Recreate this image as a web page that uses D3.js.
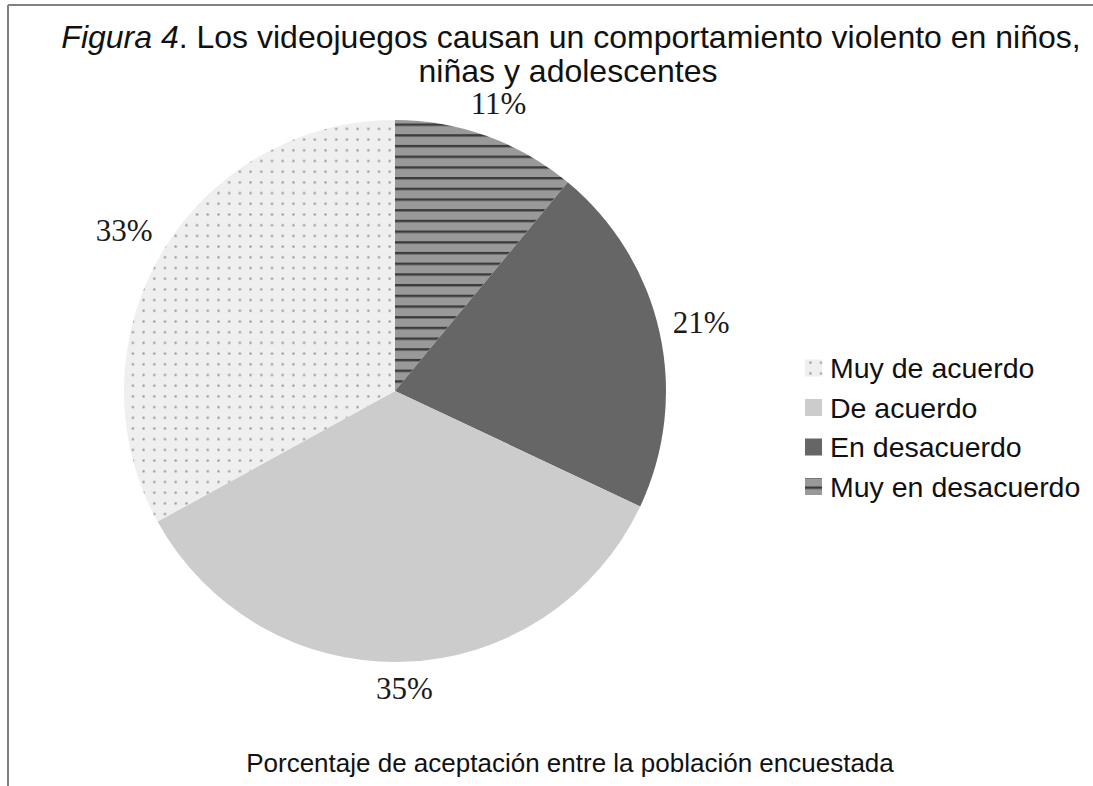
<!DOCTYPE html>
<html>
<head>
<meta charset="utf-8">
<script src="https://cdn.jsdelivr.net/npm/d3@7"></script>
<style>
  html, body { margin: 0; padding: 0; background: #fff; }
  svg { display: block; }
</style>
</head>
<body>
<svg id="chart" width="1093" height="786"></svg>
<script>
// ---- Data ----
const categories = ["Muy en desacuerdo", "En desacuerdo", "De acuerdo", "Muy de acuerdo"];
const values = [11, 21, 35, 33];
const valueLabels = ["11%", "21%", "35%", "33%"];
const legendOrder = ["Muy de acuerdo", "De acuerdo", "En desacuerdo", "Muy en desacuerdo"];
const titleItalic = "Figura 4";
const titleLine1 = ". Los videojuegos causan un comportamiento violento en niños,";
const titleLine2 = "niñas y adolescentes";
const bottomText = "Porcentaje de aceptación entre la población encuestada";

// ---- Setup ----
const W = 1093, H = 786;
const svg = d3.select("#chart");
const cx = 395, cy = 391, R = 271;

const defs = svg.append("defs");
// horizontal lines pattern
const pl = defs.append("pattern").attr("id", "hlines")
  .attr("patternUnits", "userSpaceOnUse").attr("width", 10).attr("height", 10.7);
pl.append("rect").attr("width", 10).attr("height", 10.7).attr("fill", "#999999");
pl.append("rect").attr("y", 0).attr("width", 10).attr("height", 2.4).attr("fill", "#3c3c3c");
// dots pattern
const pd = defs.append("pattern").attr("id", "dots")
  .attr("patternUnits", "userSpaceOnUse").attr("width", 10.7).attr("height", 10.7);
pd.append("rect").attr("width", 10.7).attr("height", 10.7).attr("fill", "#efefef");
pd.append("rect").attr("x", 4.4).attr("y", 4.4).attr("width", 2).attr("height", 2).attr("fill", "#8c8c8c");

const fillScale = d3.scaleOrdinal()
  .domain(categories)
  .range(["url(#hlines)", "#666666", "#cccccc", "url(#dots)"]);

// ---- Frame ----
svg.append("line").attr("x1", 8).attr("y1", 5).attr("x2", W).attr("y2", 5)
  .attr("stroke", "#808080").attr("stroke-width", 2);
svg.append("line").attr("x1", 8).attr("y1", 5).attr("x2", 8).attr("y2", H)
  .attr("stroke", "#808080").attr("stroke-width", 2);

// ---- Title ----
const title = svg.append("text")
  .attr("x", 571).attr("y", 48)
  .attr("text-anchor", "middle")
  .attr("font-family", "Liberation Sans, Arial, sans-serif")
  .attr("font-size", 32).attr("fill", "#111");
title.append("tspan").attr("font-style", "italic").text(titleItalic);
title.append("tspan").text(titleLine1);
svg.append("text")
  .attr("x", 568).attr("y", 82)
  .attr("text-anchor", "middle")
  .attr("font-family", "Liberation Sans, Arial, sans-serif")
  .attr("font-size", 32).attr("fill", "#111")
  .text(titleLine2);

// ---- Pie ----
const pie = d3.pie().sort(null).value(d => d.value);
const data = categories.map((c, i) => ({ cat: c, value: values[i], label: valueLabels[i] }));
const arcs = pie(data);
const arc = d3.arc().innerRadius(0).outerRadius(R);

const g = svg.append("g").attr("transform", `translate(${cx},${cy})`);
g.selectAll("path.slice").data(arcs).enter().append("path")
  .attr("class", "slice")
  .attr("d", arc)
  .attr("fill", d => fillScale(d.data.cat));

// ---- Labels (outside end) ----
const labelFont = 31;
g.selectAll("text.lbl").data(arcs).enter().append("text")
  .attr("class", "lbl")
  .attr("font-family", "Liberation Serif, Times New Roman, serif")
  .attr("font-size", labelFont)
  .attr("fill", "#1a1a1a")
  .attr("text-anchor", "middle")
  .attr("dominant-baseline", "central")
  .text(d => d.data.label)
  .each(function(d) {
    const a = (d.startAngle + d.endAngle) / 2;
    const bb = this.getBBox();
    const hw = bb.width / 2, hh = 14;
    const dist = R + 12 + hw * Math.abs(Math.sin(a)) + hh * Math.abs(Math.cos(a));
    d3.select(this)
      .attr("x", dist * Math.sin(a))
      .attr("y", -dist * Math.cos(a));
  });

// ---- Legend ----
const legendX = 805, legendY0 = 368, legendStep = 39.5, sw = 17;
const lg = svg.append("g");
const items = lg.selectAll("g.item").data(legendOrder).enter().append("g")
  .attr("class", "item")
  .attr("transform", (d, i) => `translate(${legendX},${legendY0 + i * legendStep})`);
items.append("rect")
  .attr("x", 0).attr("y", -sw / 2).attr("width", sw).attr("height", sw)
  .attr("fill", d => fillScale(d));
items.append("text")
  .attr("x", 25).attr("y", 0)
  .attr("dominant-baseline", "central")
  .attr("font-family", "Liberation Sans, Arial, sans-serif")
  .attr("font-size", 28.5).attr("fill", "#111")
  .text(d => d);

// ---- Bottom text ----
svg.append("text")
  .attr("x", 570).attr("y", 772)
  .attr("text-anchor", "middle")
  .attr("font-family", "Liberation Sans, Arial, sans-serif")
  .attr("font-size", 26).attr("fill", "#111")
  .text(bottomText);
</script>
</body>
</html>
